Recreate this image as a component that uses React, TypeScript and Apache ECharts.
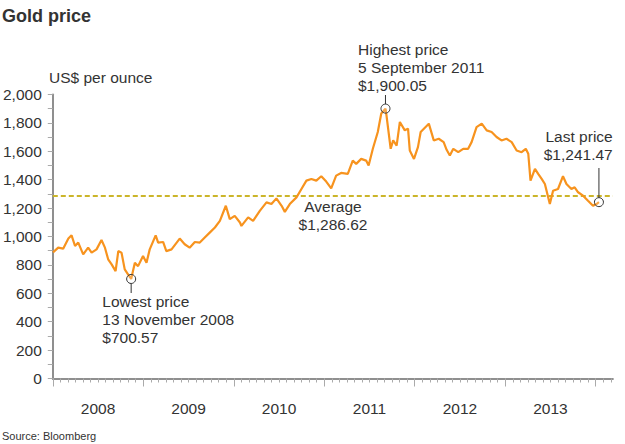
import React, { useEffect, useRef } from "react";
import * as echarts from "echarts";

const dates: string[] = [
  "2008-01-02","2008-01-23","2008-02-12","2008-03-04","2008-03-17","2008-03-31","2008-04-13","2008-05-03",
  "2008-05-23","2008-06-06","2008-06-26","2008-07-16","2008-07-30","2008-08-12","2008-08-26","2008-09-11",
  "2008-09-22","2008-10-05","2008-10-18","2008-11-01","2008-11-13","2008-11-28","2008-12-11","2008-12-31",
  "2009-01-14","2009-01-27","2009-02-20","2009-03-02","2009-03-22","2009-04-04","2009-04-25","2009-05-28",
  "2009-06-17","2009-07-07","2009-07-28","2009-08-17","2009-09-06","2009-09-26","2009-10-17","2009-11-06",
  "2009-11-30","2009-12-16","2010-01-05","2010-01-26","2010-02-01","2010-02-28","2010-03-20","2010-04-16",
  "2010-05-13","2010-06-02","2010-06-22","2010-07-13","2010-07-26","2010-08-15","2010-09-11","2010-10-01",
  "2010-10-21","2010-11-10","2010-11-30","2010-12-20","2011-01-09","2011-01-29","2011-02-18","2011-03-10",
  "2011-04-06","2011-04-26","2011-05-10","2011-05-30","2011-06-19","2011-06-29","2011-07-16","2011-08-05",
  "2011-08-19","2011-09-05","2011-09-09","2011-09-26","2011-10-06","2011-10-20","2011-11-02","2011-11-22",
  "2011-12-05","2011-12-12","2011-12-29","2012-01-14","2012-01-25","2012-02-27","2012-03-18","2012-04-07",
  "2012-04-27","2012-05-09","2012-05-22","2012-06-05","2012-06-25","2012-07-15","2012-08-04","2012-08-18",
  "2012-09-07","2012-09-28","2012-10-18","2012-11-07","2012-11-27","2012-12-17","2013-01-06","2013-01-27",
  "2013-02-16","2013-03-08","2013-03-25","2013-04-04","2013-04-13","2013-05-01","2013-05-14","2013-05-28",
  "2013-06-10","2013-06-30","2013-07-13","2013-08-02","2013-08-22","2013-09-05","2013-09-25","2013-10-08",
  "2013-10-22","2013-11-11","2013-12-01","2013-12-21","2014-01-04","2014-01-14"
];

const prices: number[] = [
  888, 921, 914, 985, 1008, 933, 957, 874,
  921, 886, 909, 975, 921, 839, 803, 756,
  897, 886, 768, 732, 700.57, 815, 791, 862,
  815, 909, 1008, 957, 961, 897, 909, 985,
  945, 921, 961, 957, 992, 1027, 1063, 1110,
  1216, 1122, 1145, 1098, 1074, 1134, 1110, 1180,
  1240, 1228, 1268, 1216, 1173, 1228, 1275, 1334,
  1393, 1405, 1393, 1424, 1386, 1339, 1428, 1447,
  1440, 1534, 1511, 1546, 1534, 1499, 1617, 1735,
  1865, 1900.05, 1853, 1617, 1676, 1640, 1806, 1747,
  1759, 1605, 1546, 1629, 1735, 1794, 1676, 1688,
  1664, 1610, 1570, 1617, 1593, 1617, 1617, 1664,
  1770, 1794, 1747, 1735, 1700, 1676, 1688, 1664,
  1605, 1593, 1617, 1582, 1393, 1476, 1440, 1405,
  1369, 1228, 1322, 1334, 1424, 1369, 1334, 1346,
  1311, 1287, 1251, 1216, 1228, 1241.47
];

const yearLabels: number[] = [2008, 2009, 2010, 2011, 2012, 2013];
const yearTicks: number[] = [2008, 2009, 2010, 2011, 2012, 2013, 2014];
const AVERAGE = 1286.62;
const lowest = { date: "2008-11-13", value: 700.57, lines: ["Lowest price", "13 November 2008", "$700.57"] };
const highest = { date: "2011-09-05", value: 1900.05, lines: ["Highest price", "5 September 2011", "$1,900.05"] };
const lastPt = { date: "2014-01-14", value: 1241.47, lines: ["Last price", "$1,241.47"] };
const avgLines = ["Average", "$1,286.62"];

const X_MIN = 2008;
const X_MAX = 2014.19;

function yearFrac(d: string): number {
  const [y, m, dd] = d.split("-").map(Number);
  const start = Date.UTC(y, 0, 1);
  const end = Date.UTC(y + 1, 0, 1);
  return y + (Date.UTC(y, m - 1, dd) - start) / (end - start);
}

const FONT = "'Liberation Sans', Arial, Helvetica, sans-serif";
const TEXT = "#333333";
const AXIS = "#8f8f8f";
const FS = 15.5;

export default function App() {
  const ref = useRef<HTMLDivElement>(null);
  useEffect(() => {
    if (!ref.current) return;
    const chart = echarts.init(ref.current, undefined, { renderer: "svg" });
    const monthTicks: number[] = [];
    for (let k = 0; k <= 74; k++) monthTicks.push(2008 + k / 12);
    const data = dates.map((d, i) => [yearFrac(d), prices[i]]);
    chart.setOption({
      animation: false,
      backgroundColor: "#ffffff",
      grid: { left: 52.7, right: 12.1, top: 94.4, bottom: 65.5, containLabel: false },
      xAxis: [
        {
          type: "value",
          min: X_MIN,
          max: X_MAX,
          axisLine: { show: true, lineStyle: { color: AXIS, width: 2 } },
          axisTick: { show: true, customValues: yearTicks, length: 8, lineStyle: { color: "#aaaaaa", width: 1 } },
          axisLabel: {
            show: true,
            customValues: yearLabels.map((y) => y + 0.5),
            formatter: (v: number) => String(Math.floor(v)),
            margin: 22,
            fontSize: FS,
            fontFamily: FONT,
            color: TEXT,
          },
          splitLine: { show: false },
        },
        {
          type: "value",
          min: X_MIN,
          max: X_MAX,
          position: "bottom",
          axisLine: { show: false },
          axisTick: { show: true, customValues: monthTicks, length: 4, lineStyle: { color: "#aaaaaa", width: 1 } },
          axisLabel: { show: false },
          splitLine: { show: false },
        },
      ],
      yAxis: {
        type: "value",
        min: 0,
        max: 2000,
        interval: 100,
        axisLine: { show: true, lineStyle: { color: AXIS, width: 2 } },
        axisTick: { show: true, length: 5, lineStyle: { color: "#aaaaaa", width: 1 } },
        axisLabel: {
          formatter: (v: number) => (v % 200 === 0 ? v.toLocaleString("en-US") : ""),
          margin: 11,
          fontSize: FS,
          fontFamily: FONT,
          color: TEXT,
        },
        splitLine: { show: false },
      },
      series: [
        {
          type: "line",
          data,
          xAxisIndex: 0,
          yAxisIndex: 0,
          symbol: "none",
          lineStyle: { color: "#f7931e", width: 2.2 },
          z: 3,
          markLine: {
            silent: true,
            symbol: "none",
            label: { show: false },
            lineStyle: { color: "#cbb52a", width: 2, type: [5, 3] },
            data: [{ yAxis: AVERAGE }],
            z: 2,
          },
        },
      ],
    });

    const px = (d: string, v: number) =>
      chart.convertToPixel({ xAxisIndex: 0, yAxisIndex: 0 }, [yearFrac(d), v]) as number[];
    const pLow = px(lowest.date, lowest.value);
    const pHigh = px(highest.date, highest.value);
    const pLast = px(lastPt.date, lastPt.value);
    const pAvgY = (chart.convertToPixel({ yAxisIndex: 0 }, AVERAGE) as unknown) as number;

    const txt = (text: string, x: number, y: number, align: string, size = FS, weight = "normal", lh = 18) => ({
      type: "text",
      x,
      y,
      z: 10,
      style: {
        text,
        fill: TEXT,
        fontSize: size,
        fontFamily: FONT,
        fontWeight: weight,
        align,
        verticalAlign: "top",
        lineHeight: lh,
      },
    });
    const r = 4.5;
    const circ = (p: number[]) => ({
      type: "circle",
      z: 10,
      shape: { cx: p[0], cy: p[1], r },
      style: { fill: "rgba(255,255,255,0.2)", stroke: "#333333", lineWidth: 1 },
    });
    const vline = (x: number, y1: number, y2: number) => ({
      type: "line",
      z: 10,
      shape: { x1: x, y1, x2: x, y2 },
      style: { stroke: "#333333", lineWidth: 1 },
    });

    chart.setOption({
      graphic: [
        txt("Gold price", 2, 6, "left", 18, "bold", 20),
        txt("US$ per ounce", 49, 68, "left", FS, "normal", 18),
        txt("Source: Bloomberg", 2, 429, "left", 11, "normal", 13),
        txt(highest.lines.join("\n"), 358, 41, "left", FS, "normal", 17.6),
        vline(pHigh[0], 95, pHigh[1] - r),
        circ(pHigh),
        txt(lowest.lines.join("\n"), 102.3, 292.5, "left", FS, "normal", 18),
        vline(pLow[0], pLow[1] + r, 293),
        circ(pLow),
        txt(lastPt.lines.join("\n"), 612.7, 127.3, "right", FS, "normal", 18.3),
        vline(pLast[0], 168, pLast[1] - r),
        circ(pLast),
        txt(avgLines.join("\n"), 333, pAvgY + 2.3, "center", FS, "normal", 17.5),
      ],
    });
    return () => chart.dispose();
  }, []);
  return (
    <div
      ref={ref}
      style={{ position: "fixed", left: 0, top: 0, width: 625, height: 444, background: "#fff" }}
    />
  );
}
